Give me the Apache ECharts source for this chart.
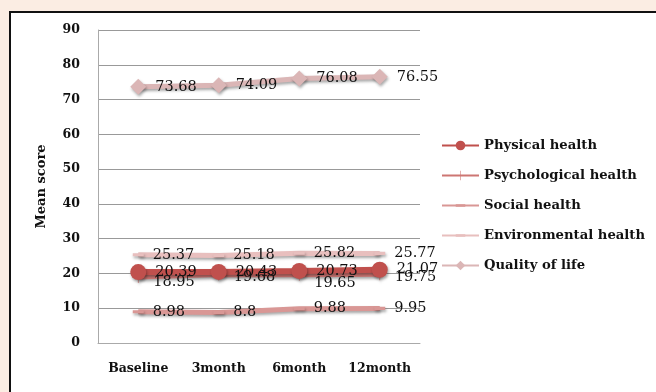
<!DOCTYPE html>
<html><head><meta charset="utf-8">
<script src="https://cdn.jsdelivr.net/npm/echarts@6/dist/echarts.min.js"></script>
<style>
html,body{margin:0;padding:0;background:#fbede3;}
#frame{position:absolute;left:9px;top:11px;width:700px;height:400px;background:#fff;border-left:2px solid #111;border-top:2px solid #111;}
#c{position:absolute;left:0;top:0;width:656px;height:392px;}
</style>
</head><body>
<div id="frame"></div>
<div id="c"></div>
<script>
const categories = ['Baseline', '3month', '6month', '12month'];
const physical = [20.39, 20.43, 20.73, 21.07];
const psychological = [18.95, 19.68, 19.65, 19.75];
const social = [8.98, 8.8, 9.88, 9.95];
const environmental = [25.37, 25.18, 25.82, 25.77];
const qualityOfLife = [73.68, 74.09, 76.08, 76.55];
const yTicks = [0, 90, 10];

const chart = echarts.init(document.getElementById('c'));
const serif = 'DejaVu Serif';
const shadow = {shadowColor: 'rgba(0,0,0,0.35)', shadowBlur: 3, shadowOffsetX: 1, shadowOffsetY: 2};
const corners = 'M0,0L0.01,0L0,0.01Z M10,10L9.99,10L10,9.99Z ';
const plusPath = 'path://' + corners + 'M0,4.7L10,4.7L10,5.3L0,5.3Z M4.7,0L5.3,0L5.3,10L4.7,10Z';
const dashPath = 'path://' + corners + 'M0,3.6L10,3.6L10,6.4L0,6.4Z';

function mk(name, data, color, symbol, size, width, labelOffsets) {
  return {
    name, type: 'line', symbol, symbolSize: size,
    data: data.map((v, i) => labelOffsets ? {value: v, label: {offset: labelOffsets[i]}} : v),
    itemStyle: Object.assign({color: color}, shadow),
    lineStyle: Object.assign({color: color, width: width}, shadow),
    label: {show: true, position: 'right', distance: 9, color: '#111', fontFamily: serif, fontSize: 14.5},
    z: 2
  };
}

chart.setOption({
  animation: false,
  grid: {left: 98, right: 236, top: 30, bottom: 49},
  legend: {
    orient: 'vertical', left: 436, top: 134, itemGap: 17, itemWidth: 37, itemHeight: 12,
    textStyle: {fontFamily: serif, fontWeight: 'bold', fontSize: 13.2, color: '#111'},
    data: ['Physical health', 'Psychological health', 'Social health', 'Environmental health', 'Quality of life']
  },
  xAxis: {
    type: 'category', data: categories, boundaryGap: true,
    axisLine: {show: true, lineStyle: {color: '#aaa', width: 1}},
    axisTick: {show: false},
    axisLabel: {interval: 0, fontFamily: serif, fontWeight: 'bold', fontSize: 12.5, color: '#111', margin: 19}
  },
  yAxis: {
    type: 'value', min: yTicks[0], max: yTicks[1], interval: yTicks[2],
    name: 'Mean score', nameLocation: 'middle', nameGap: 50, nameRotate: 90,
    nameTextStyle: {fontFamily: serif, fontWeight: 'bold', fontSize: 13, color: '#111'},
    axisLine: {show: true, lineStyle: {color: '#aaa'}},
    axisTick: {show: false},
    axisLabel: {fontFamily: serif, fontWeight: 'bold', fontSize: 12.5, color: '#111', margin: 18},
    splitLine: {lineStyle: {color: '#999', width: 1}}
  },
  series: [
    mk('Quality of life', qualityOfLife, '#dbb6b6', 'diamond', 16, 5),
    mk('Environmental health', environmental, '#e8bfbe', dashPath, 11, 5),
    mk('Social health', social, '#d99795', dashPath, 11, 5),
    mk('Psychological health', psychological, '#cd7673', plusPath, 12, 5, [[0, 5], [0, 3], [0, 9], [0, 3]]),
    mk('Physical health', physical, '#c0504d', 'circle', 16, 6)
  ]
});
</script>
</body></html>
